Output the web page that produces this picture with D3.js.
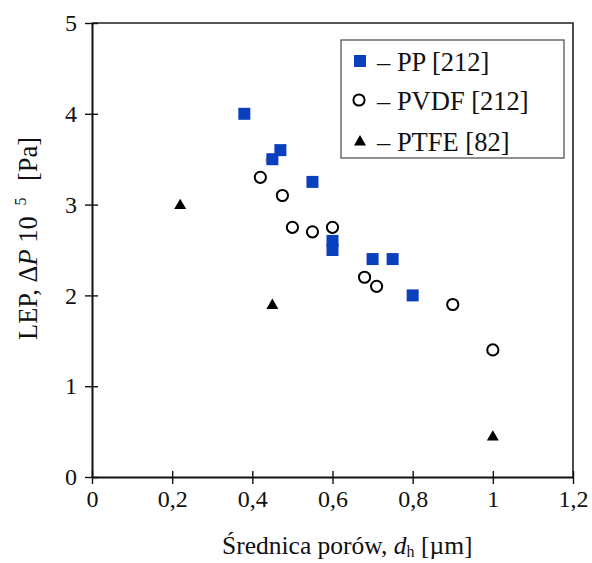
<!DOCTYPE html>
<html>
<head>
<meta charset="utf-8">
<script src="https://cdn.jsdelivr.net/npm/d3@7"></script>
<style>
  html, body { margin: 0; padding: 0; background: #fff; }
  svg { display: block; }
  svg text { font-family: "Liberation Serif", "Times New Roman", Times, serif !important; }
</style>
</head>
<body>
<div id="chart"></div>
<script>
(function () {
  "use strict";

  // Data (pore diameter in µm, LEP in 10^5 Pa).
  var ppX = [0.38, 0.47, 0.45, 0.55, 0.60, 0.60, 0.70, 0.75, 0.80];
  var ppY = [4.00, 3.60, 3.50, 3.25, 2.60, 2.50, 2.40, 2.40, 2.00];
  var pvdfX = [0.42, 0.475, 0.50, 0.55, 0.60, 0.68, 0.71, 0.90, 1.00];
  var pvdfY = [3.30, 3.10, 2.75, 2.70, 2.75, 2.20, 2.10, 1.90, 1.40];
  var ptfeX = [0.22, 0.45, 1.00];
  var ptfeY = [3.00, 1.90, 0.45];
  var strayX = [0.445];
  var strayY = [3.49];

  var xTicks = [0, 0.2, 0.4, 0.6, 0.8, 1, 1.2];
  var yTicks = [0, 1, 2, 3, 4, 5];
  var legendLabels = ["– PP [212]", "– PVDF [212]", "– PTFE [82]"];

  var W = 592, H = 563;
  var m = { left: 92, right: 19, top: 23, bottom: 86 };
  var FS = 24;

  var svg = d3.select("#chart").append("svg")
    .attr("width", W).attr("height", H);

  var x = d3.scaleLinear().domain([0, 1.2]).range([m.left, W - m.right]);
  var y = d3.scaleLinear().domain([0, 5]).range([H - m.bottom, m.top]);

  function pts(xs, ys) {
    return xs.map(function (v, i) { return { x: v, y: ys[i] }; });
  }

  // Frame (top and right).
  svg.append("path")
    .attr("d", "M" + x(0) + "," + y(5) + "H" + x(1.2) + "V" + y(0))
    .attr("fill", "none").attr("stroke", "#222").attr("stroke-width", 1.6);

  // X axis with ticks crossing the line.
  var xAxis = svg.append("g")
    .attr("transform", "translate(0," + y(0) + ")")
    .call(d3.axisBottom(x).tickValues(xTicks).tickSizeInner(7).tickSizeOuter(0)
      .tickFormat(function (d) { return String(d).replace(".", ","); }));
  xAxis.select(".domain").attr("stroke", "#111").attr("stroke-width", 2);
  xAxis.selectAll(".tick line").attr("stroke", "#111").attr("stroke-width", 1.4)
    .attr("y1", -6);
  xAxis.selectAll(".tick text")
    .attr("fill", "#111").style("font-size", FS + "px")
    .attr("y", 13);

  var yAxis = svg.append("g")
    .attr("transform", "translate(" + x(0) + ",0)")
    .call(d3.axisLeft(y).tickValues(yTicks).tickSizeInner(7).tickSizeOuter(0)
      .tickFormat(d3.format("d")));
  yAxis.select(".domain").attr("stroke", "#111").attr("stroke-width", 2);
  yAxis.selectAll(".tick line").attr("stroke", "#111").attr("stroke-width", 1.4)
    .attr("x1", 6);
  yAxis.selectAll(".tick text")
    .attr("fill", "#111").style("font-size", FS + "px")
    .attr("x", -15);

  // Axis titles.
  var xt = svg.append("text")
    .attr("x", 222).attr("y", 554)
    .style("font-size", "25.5px").attr("fill", "#111");
  xt.append("tspan").text("Średnica porów, ");
  xt.append("tspan").attr("font-style", "italic").text("d");
  xt.append("tspan").style("font-size", "16px").attr("dy", 3).text("h");
  xt.append("tspan").attr("dy", -3).text(" [µm]");

  var yt = svg.append("text")
    .attr("transform", "translate(37,340) rotate(-90)")
    .style("font-size", "26.5px").attr("fill", "#111");
  yt.append("tspan").text("LEP, Δ");
  yt.append("tspan").attr("font-style", "italic").text("P");
  yt.append("tspan").text(" 10 ");
  yt.append("tspan").style("font-size", "16px").attr("dx", 4).attr("dy", -11).text("5");
  yt.append("tspan").attr("dx", 10).attr("dy", 11).text(" [Pa]");

  var blue = "#0a3fbe";
  var sq = 12;
  var tri = d3.symbol().type(d3.symbolTriangle).size(62);

  svg.append("g").selectAll("circle").data(pts(strayX, strayY)).join("circle")
    .attr("cx", function (d) { return x(d.x); }).attr("cy", function (d) { return y(d.y); })
    .attr("r", 5).attr("fill", "#e8a08a");

  svg.append("g").selectAll("circle").data(pts(pvdfX, pvdfY)).join("circle")
    .attr("cx", function (d) { return x(d.x); }).attr("cy", function (d) { return y(d.y); })
    .attr("r", 5.6).attr("fill", "none").attr("stroke", "#000").attr("stroke-width", 2);

  svg.append("g").selectAll("rect").data(pts(ppX, ppY)).join("rect")
    .attr("x", function (d) { return x(d.x) - sq / 2; })
    .attr("y", function (d) { return y(d.y) - sq / 2; })
    .attr("width", sq).attr("height", sq).attr("fill", blue);

  svg.append("g").selectAll("path").data(pts(ptfeX, ptfeY)).join("path")
    .attr("d", tri)
    .attr("transform", function (d) { return "translate(" + x(d.x) + "," + (y(d.y) + 1) + ")"; })
    .attr("fill", "#000");

  // Legend.
  var lg = svg.append("g").attr("transform", "translate(341,40)");
  lg.append("rect").attr("width", 223).attr("height", 118)
    .attr("fill", "#fff").attr("stroke", "#555").attr("stroke-width", 1.3);
  var rowsY = [21, 60, 101];
  lg.append("rect").attr("x", 19 - sq / 2).attr("y", rowsY[0] - sq / 2)
    .attr("width", sq).attr("height", sq).attr("fill", blue);
  lg.append("circle").attr("cx", 18).attr("cy", rowsY[1])
    .attr("r", 5.6).attr("fill", "none").attr("stroke", "#000").attr("stroke-width", 2);
  lg.append("path").attr("d", tri)
    .attr("transform", "translate(19," + (rowsY[2] + 1) + ")").attr("fill", "#000");
  lg.selectAll("text.lab").data(legendLabels).join("text")
    .attr("class", "lab")
    .attr("x", 36).attr("y", function (d, i) { return rowsY[i] + 10; })
    .style("font-size", "26.5px").attr("fill", "#111")
    .text(function (d) { return d; });
})();
</script>
</body>
</html>
